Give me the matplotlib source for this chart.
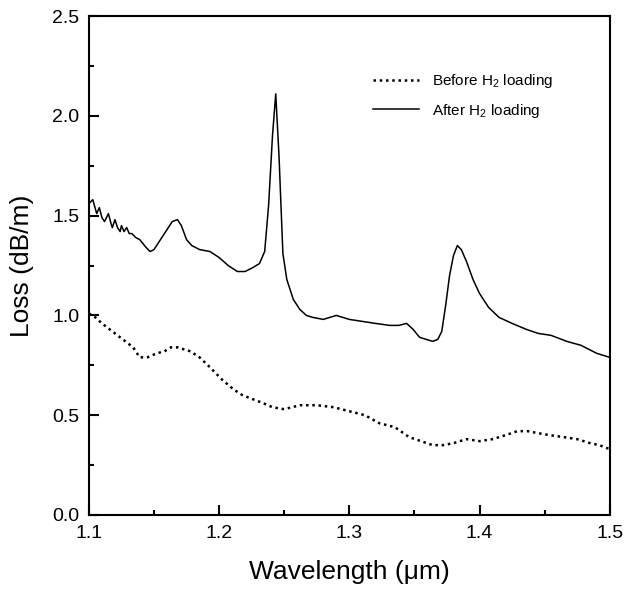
import numpy as np
import matplotlib
matplotlib.use('Agg')
import matplotlib.pyplot as plt
from matplotlib.ticker import MultipleLocator

plt.rcParams['font.family'] = ['Liberation Sans', 'DejaVu Sans']
plt.rcParams['mathtext.fontset'] = 'custom'
plt.rcParams['mathtext.rm'] = 'Liberation Sans'
plt.rcParams['mathtext.it'] = 'Liberation Sans'

# loss spectrum after H2 loading (solid)
after_wl = [1.100, 1.103, 1.106, 1.108, 1.110, 1.112, 1.115, 1.117, 1.118, 1.120,
            1.122, 1.124, 1.125, 1.127, 1.129, 1.131, 1.133, 1.136, 1.139, 1.144,
            1.147, 1.150, 1.155, 1.160, 1.164, 1.168, 1.171, 1.175, 1.179, 1.185,
            1.193, 1.200, 1.207, 1.214, 1.220, 1.226, 1.231, 1.235, 1.238, 1.241,
            1.2435, 1.246, 1.249, 1.252, 1.257, 1.262, 1.267, 1.272, 1.280, 1.290,
            1.300, 1.310, 1.320, 1.331, 1.338, 1.344, 1.349, 1.354, 1.359, 1.364,
            1.368, 1.371, 1.374, 1.377, 1.380, 1.383, 1.386, 1.390, 1.395, 1.400,
            1.407, 1.415, 1.425, 1.436, 1.445, 1.455, 1.467, 1.478, 1.490, 1.500]
after_loss = [1.56, 1.58, 1.51, 1.54, 1.49, 1.47, 1.51, 1.46, 1.44, 1.48,
              1.44, 1.42, 1.45, 1.42, 1.44, 1.41, 1.41, 1.39, 1.38, 1.34,
              1.32, 1.33, 1.38, 1.43, 1.47, 1.48, 1.45, 1.38, 1.35, 1.33,
              1.32, 1.29, 1.25, 1.22, 1.22, 1.24, 1.26, 1.32, 1.55, 1.90,
              2.11, 1.80, 1.31, 1.18, 1.08, 1.03, 1.00, 0.99, 0.98, 1.00,
              0.98, 0.97, 0.96, 0.95, 0.95, 0.96, 0.93, 0.89, 0.88, 0.87,
              0.88, 0.92, 1.05, 1.20, 1.30, 1.35, 1.33, 1.27, 1.18, 1.11,
              1.04, 0.99, 0.96, 0.93, 0.91, 0.90, 0.87, 0.85, 0.81, 0.79]

# loss spectrum before H2 loading (dotted)
before_wl = [1.100, 1.105, 1.110, 1.116, 1.122, 1.128, 1.134, 1.139, 1.145, 1.152,
             1.158, 1.163, 1.168, 1.173, 1.178, 1.185, 1.193, 1.202, 1.211, 1.218,
             1.226, 1.234, 1.241, 1.250, 1.262, 1.275, 1.288, 1.300, 1.312, 1.323,
             1.335, 1.346, 1.355, 1.364, 1.372, 1.380, 1.390, 1.400, 1.410, 1.420,
             1.429, 1.437, 1.445, 1.454, 1.465, 1.475, 1.485, 1.492, 1.500]
before_loss = [1.01, 0.99, 0.96, 0.93, 0.90, 0.87, 0.84, 0.79, 0.79, 0.81,
               0.82, 0.84, 0.84, 0.83, 0.82, 0.79, 0.74, 0.68, 0.63, 0.60,
               0.58, 0.56, 0.54, 0.53, 0.55, 0.55, 0.54, 0.52, 0.50, 0.46,
               0.44, 0.39, 0.37, 0.35, 0.35, 0.36, 0.38, 0.37, 0.38, 0.40,
               0.42, 0.42, 0.41, 0.40, 0.39, 0.38, 0.36, 0.35, 0.33]

fig = plt.figure(figsize=(6.26, 5.94), dpi=100)
ax = fig.add_axes([0.142, 0.133, 0.832, 0.840])

ax.plot(before_wl, before_loss, color='black', linestyle=(0, (1, 1.5)), linewidth=1.8,
        label=r'Before H$_2$ loading')
ax.plot(after_wl, after_loss, color='black', linewidth=1.1, label=r'After H$_2$ loading')

ax.set_xlim(1.1, 1.5)
ax.set_ylim(0.0, 2.5)
ax.xaxis.set_major_locator(MultipleLocator(0.1))
ax.xaxis.set_minor_locator(MultipleLocator(0.05))
ax.yaxis.set_major_locator(MultipleLocator(0.5))
ax.yaxis.set_minor_locator(MultipleLocator(0.25))
ax.xaxis.set_major_formatter(plt.FormatStrFormatter('%.1f'))
ax.yaxis.set_major_formatter(plt.FormatStrFormatter('%.1f'))

ax.tick_params(which='both', direction='in', width=1.5, labelsize=14)
ax.tick_params(which='major', length=7, pad=7)
ax.tick_params(which='minor', length=3.5)
for s in ax.spines.values():
    s.set_linewidth(1.5)

ax.set_xlabel('Wavelength (\u03bcm)', fontsize=19, labelpad=13)
ax.set_ylabel('Loss (dB/m)', fontsize=19, labelpad=13)

leg = ax.legend(loc='upper left', bbox_to_anchor=(0.52, 0.915), frameon=False,
                fontsize=11, handlelength=3.0, handletextpad=0.8, labelspacing=0.75)

fig.savefig('out.png', dpi=100)
